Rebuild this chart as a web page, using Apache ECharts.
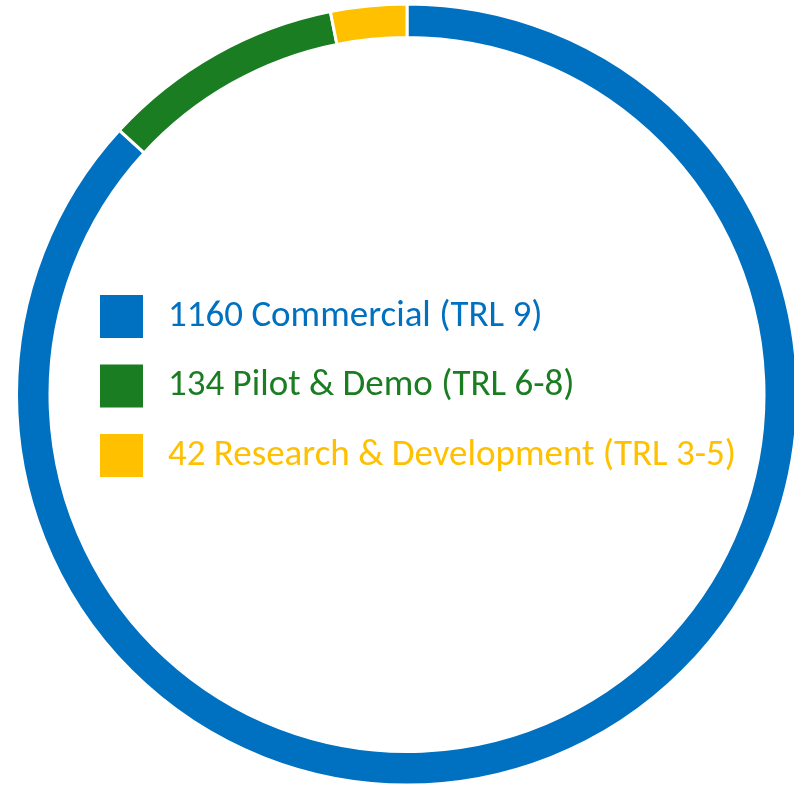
<!DOCTYPE html>
<html>
<head>
<meta charset="utf-8">
<script src="https://cdn.jsdelivr.net/npm/echarts@6/dist/echarts.min.js"></script>
<style>
  html, body { margin: 0; padding: 0; background: #fff; }
  #chart { width: 794px; height: 785px; }
</style>
</head>
<body>
<div id="chart"></div>
<script>
// Projects by technology readiness level
const categories = ['Commercial (TRL 9)', 'Pilot & Demo (TRL 6-8)', 'Research & Development (TRL 3-5)'];
const counts = [1160, 134, 42];
const colors = ['#0070C0', '#1A7D22', '#FFC000'];

const chart = echarts.init(document.getElementById('chart'), null, { renderer: 'canvas' });

const pieData = categories.map((name, i) => ({
  name: name,
  value: counts[i],
  itemStyle: { color: colors[i] }
}));

chart.setOption({
  animation: false,
  legend: {
    orient: 'vertical',
    left: 100,
    top: 295,
    padding: 0,
    icon: 'rect',
    itemWidth: 43,
    itemHeight: 43,
    itemGap: 26.5,
    selectedMode: false,
    itemStyle: { borderWidth: 0 },
    data: categories.map((name, i) => ({
      name: name,
      textStyle: { color: colors[i] }
    })),
    formatter: name => counts[categories.indexOf(name)] + ' ' + name,
    textStyle: {
      fontFamily: 'Carlito, Lato, "Open Sans", sans-serif',
      fontSize: 37,
      lineHeight: 43,
      padding: [0, 0, 0, 20]
    }
  },
  series: [{
    type: 'pie',
    center: [407, 394.5],
    radius: [357, 390.5],
    startAngle: 90,
    clockwise: true,
    silent: true,
    label: { show: false },
    labelLine: { show: false },
    itemStyle: { borderColor: '#ffffff', borderWidth: 3 },
    data: pieData
  }]
});
</script>
</body>
</html>
